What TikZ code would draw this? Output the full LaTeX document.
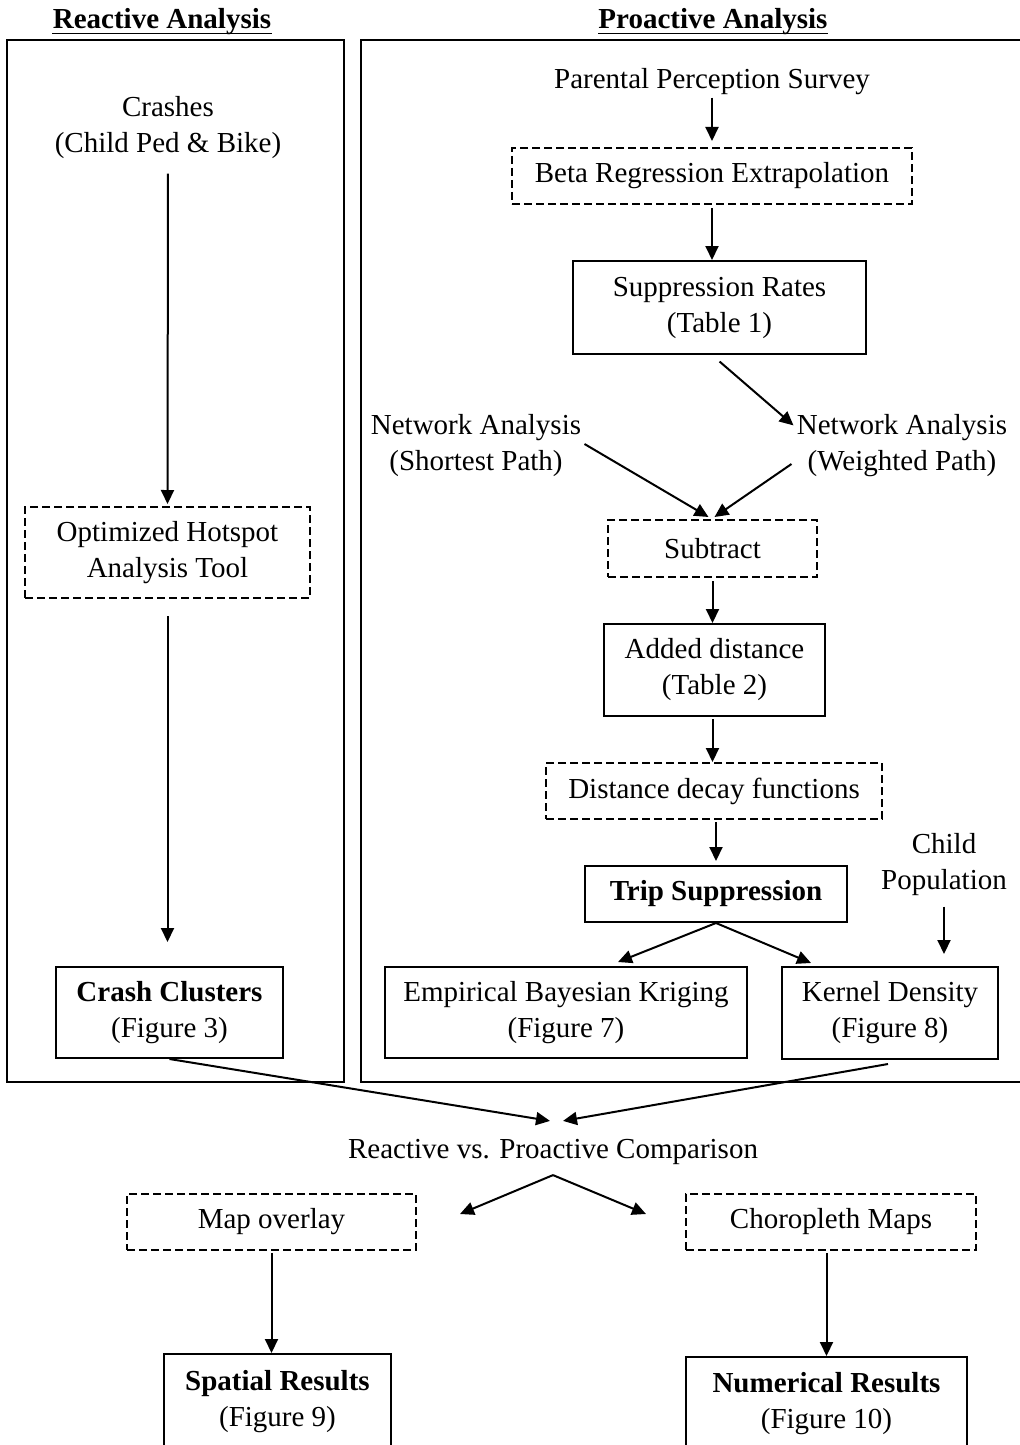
\documentclass[tikz,border=0pt]{standalone}
\usepackage{fontspec}
\setmainfont{Liberation Serif}
\usetikzlibrary{arrows.meta}
\begin{document}
\begin{tikzpicture}[x=0.5pt,y=-0.5pt,
  every node/.style={font=\fontsize{14.5}{18}\selectfont, align=center, inner sep=0pt},
  solidbox/.style={draw, line width=1pt},
  dashbox/.style={draw, line width=1pt, dash pattern=on 4pt off 2pt},
  frame/.style={draw, line width=1.2pt},
  arr/.style={draw, line width=1pt, -{Triangle[length=7pt,width=6.5pt]}},
  uline/.style={draw, line width=0.8pt}
  ]
\useasboundingbox (0,0) rectangle (1020,1445);
\fill[white] (0,0) rectangle (1020,1445);

% frames
\draw[frame] (7,40) rectangle (344,1082);
\draw[frame] (361,40) rectangle (1024,1082);

% titles
\node[anchor=base] (rtitle) at (162,29) {\textbf{Reactive Analysis}};
\draw[uline] ([yshift=-2.2pt]rtitle.base west) -- ([yshift=-2.2pt]rtitle.base east);
\node[anchor=base] (ptitle) at (713,29) {\textbf{Proactive Analysis}};
\draw[uline] ([yshift=-2.2pt]ptitle.base west) -- ([yshift=-2.2pt]ptitle.base east);

% reactive column
\node (crashes) at (168,128) {Crashes\\(Child Ped \& Bike)};
\node[dashbox, minimum width=142.5pt, minimum height=45.5pt] (hotspot) at (167.5,552.5) {Optimized Hotspot\\Analysis Tool};
\node[solidbox, minimum width=113.5pt, minimum height=45.5pt] (crash) at (169.5,1012.5) {\textbf{Crash Clusters}\\(Figure 3)};

% proactive column
\node (parental) at (712,82) {Parental Perception Survey};
\node[dashbox, minimum width=200pt, minimum height=28pt] (beta) at (712,176) {Beta Regression Extrapolation};
\node[solidbox, minimum width=146.5pt, minimum height=46.5pt] (supp) at (719.5,307.5) {Suppression Rates\\(Table 1)};
\node (netS) at (476,446) {Network Analysis\\(Shortest Path)};
\node (netW) at (902,446) {Network Analysis\\(Weighted Path)};
\node[dashbox, minimum width=104.5pt, minimum height=28.5pt] (subtract) at (712.5,548.5) {Subtract};
\node[solidbox, minimum width=110.5pt, minimum height=46pt] (added) at (714.5,670) {Added distance\\(Table 2)};
\node[dashbox, minimum width=168pt, minimum height=28pt] (decay) at (714,791) {Distance decay functions};
\node[solidbox, minimum width=131pt, minimum height=28pt] (trip) at (716,894) {\textbf{Trip Suppression}};
\node (child) at (944,865) {Child\\Population};
\node[solidbox, minimum width=181pt, minimum height=45.5pt] (ebk) at (566,1012.5) {Empirical Bayesian Kriging\\(Figure 7)};
\node[solidbox, minimum width=108pt, minimum height=46pt] (kernel) at (890,1013) {Kernel Density\\(Figure 8)};

% comparison
\node (comp) at (553,1152) {Reactive vs. Proactive Comparison};
\node[dashbox, minimum width=144.5pt, minimum height=28pt] (map) at (271.5,1222) {Map overlay};
\node[dashbox, minimum width=145pt, minimum height=28pt] (choro) at (831,1222) {Choropleth Maps};
\node[solidbox, minimum width=113.5pt, minimum height=48pt] (spatial) at (277.5,1402) {\textbf{Spatial Results}\\(Figure 9)};
\node[solidbox, minimum width=140.5pt, minimum height=47pt] (numer) at (826.5,1404) {\textbf{Numerical Results}\\(Figure 10)};

% connectors
\draw[arr, shorten <=7pt, shorten >=1pt] (crashes.south) -- (hotspot.north);
\draw[arr, shorten <=8.5pt, shorten >=12pt] (hotspot.south) -- (hotspot.south |- crash.north);
\draw[arr, shorten <=1pt, shorten >=3pt] (parental.south) -- (beta.north);
\draw[arr, shorten <=1.5pt] (beta.south) -- (beta.south |- supp.north);
\draw[arr, shorten <=5pt] (supp.south -| beta.south) -- ([xshift=-1.5pt,yshift=-5.5pt]netW.north west);
\draw[arr] ([xshift=1.5pt,yshift=1pt]netS.east) -- ([xshift=-2pt,yshift=1pt]subtract.north);
\draw[arr] ([xshift=-2.5pt,yshift=-9pt]netW.west) -- ([xshift=1pt,yshift=1pt]subtract.north);
\draw[arr, shorten <=1.5pt] (subtract.south) -- (subtract.south |- added.north);
\draw[arr, shorten <=1pt] (subtract.south |- added.south) -- (subtract.south |- decay.north);
\draw[arr, shorten <=1pt, shorten >=2pt] (trip.north |- decay.south) -- (trip.north);
\draw[arr] (trip.south) -- ([xshift=26pt,yshift=2pt]ebk.north);
\draw[arr] (trip.south) -- ([xshift=15pt,yshift=1.5pt]kernel.north west);
\draw[arr, shorten <=5pt, shorten >=6pt] (child.south) -- (child.south |- kernel.north);
\draw[arr] (crash.south) -- ([xshift=-1.5pt,yshift=9pt]comp.north);
\draw[arr] ([xshift=-1pt,yshift=-2pt]kernel.south) -- ([xshift=5pt,yshift=9pt]comp.north);
\draw[arr] ([yshift=-5pt]comp.south) -- ([xshift=21.5pt,yshift=-10.5pt]map.north east);
\draw[arr] ([yshift=-5pt]comp.south) -- ([xshift=-19.5pt,yshift=-10.5pt]choro.north west);
\draw[arr, shorten <=1pt] (map.south) -- (map.south |- spatial.north);
\draw[arr, shorten <=1pt] (numer.north |- choro.south) -- (numer.north);
\end{tikzpicture}
\end{document}
